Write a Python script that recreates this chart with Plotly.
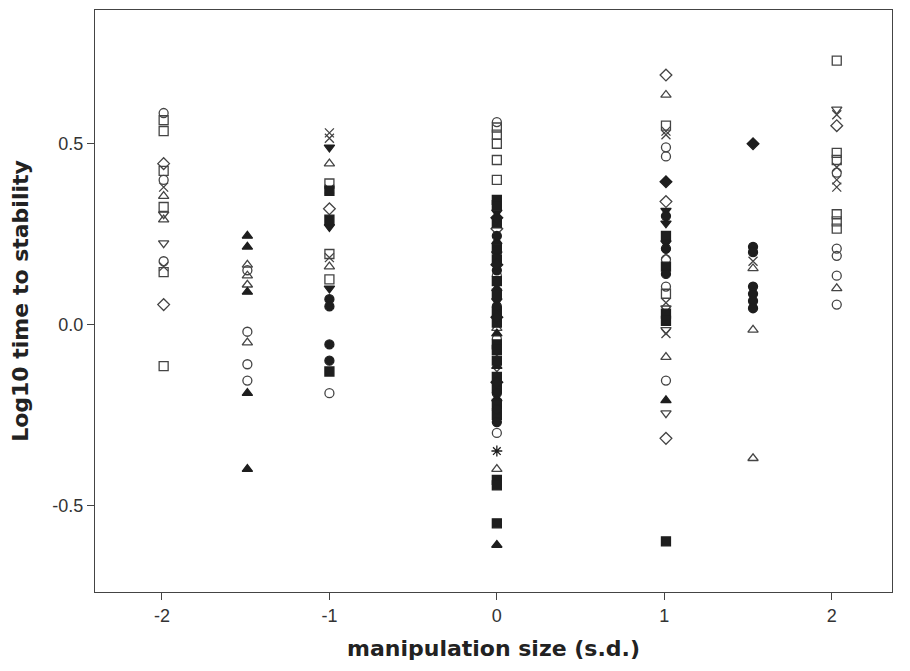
import plotly.graph_objects as go

# Data: (manipulation size, log10 time to stability) grouped by marker type
open_circle = [(-1.99,0.585),(-1.99,0.40),(-1.99,0.175),(-1.49,0.15),(-1.49,-0.02),(-1.49,-0.11),(-1.49,-0.155),
               (-1.0,-0.19),(0,0.56),(0,0.135),(0,-0.04),(0,-0.30),(1.01,0.49),(1.01,0.465),(1.01,0.18),(1.01,0.105),
               (1.01,-0.155),(2.03,0.42),(2.03,0.21),(2.03,0.19),(2.03,0.135),(2.03,0.055)]
open_square = [(-1.99,0.565),(-1.99,0.535),(-1.99,0.425),(-1.99,0.325),(-1.99,0.145),(-1.99,-0.115),(-1.0,0.39),
               (-1.0,0.195),(-1.0,0.125),(0,0.545),(0,0.525),(0,0.50),(0,0.455),(0,0.40),(1.01,0.55),(1.01,0.085),
               (2.03,0.73),(2.03,0.475),(2.03,0.455),(2.03,0.305),(2.03,0.285),(2.03,0.265)]
open_diamond = [(-1.99,0.445),(-1.99,0.055),(-1.0,0.32),(0,0.265),(1.01,0.69),(1.01,0.34),(1.01,-0.315),(2.03,0.55)]
cross = [(-1.99,0.38),(-1.99,0.16),(-1.0,0.53),(-1.0,0.515),(-1.0,0.375),(-1.0,0.185),(0,-0.085),(0,-0.13),
         (1.01,0.535),(1.01,0.525),(1.01,0.195),(1.01,0.06),(1.01,-0.025),(1.53,0.175),(2.03,0.58),(2.03,0.435),
         (2.03,0.40),(2.03,0.38)]
open_triup = [(-1.99,0.355),(-1.99,0.29),(-1.49,0.165),(-1.49,0.135),(-1.49,0.11),(-1.49,-0.05),(-1.0,0.445),
              (-1.0,0.16),(0,-0.01),(0,-0.40),(1.01,0.635),(1.01,-0.09),(1.53,0.155),(1.53,-0.015),(1.53,-0.37),
              (2.03,0.10)]
open_tridown = [(-1.99,0.305),(-1.99,0.225),(1.01,0.045),(1.01,-0.015),(1.01,-0.245),(2.03,0.595)]
filled_triup = [(-1.49,0.245),(-1.49,0.215),(-1.49,0.09),(-1.49,-0.19),(-1.49,-0.40),(0,0.23),(0,0.10),
                (0,-0.025),(0,-0.115),(0,-0.205),(0,-0.61),(1.01,-0.21)]
filled_tridown = [(-1.0,0.49),(-1.0,0.27),(-1.0,0.10),(0,0.31),(0,0.195),(0,0.065),(1.01,0.315),(1.01,0.28),
                  (1.01,0.225)]
filled_square = [(-1.0,0.37),(-1.0,0.29),(-1.0,-0.13),(0,0.345),(0,0.33),(0,0.28),(0,0.21),(0,0.18),(0,0.12),
                 (0,0.085),(0,0.035),(0,0.005),(0,-0.055),(0,-0.07),(0,-0.10),(0,-0.145),(0,-0.175),(0,-0.22),
                 (0,-0.25),(0,-0.43),(0,-0.445),(0,-0.55),(1.01,0.245),(1.01,0.16),(1.01,0.03),(1.01,0.01),
                 (1.01,-0.60)]
filled_circle = [(-1.0,0.07),(-1.0,0.05),(-1.0,-0.055),(-1.0,-0.10),(0,0.245),(0,0.15),(0,0.05),(0,-0.19),
                 (0,-0.235),(0,-0.27),(1.01,0.30),(1.01,0.21),(1.01,0.14),(1.53,0.215),(1.53,0.20),(1.53,0.105),
                 (1.53,0.085),(1.53,0.065),(1.53,0.045)]
filled_diamond = [(0,0.295),(0,0.165),(0,0.02),(0,-0.16),(1.01,0.395),(1.53,0.50)]
star = [(0,-0.35)]

x_ticks = [-2, -1, 0, 1, 2]
x_ticktext = ["-2", "-1", "0", "1", "2"]
y_ticks = [-0.5, 0.0, 0.5]
y_ticktext = ["-0.5", "0.0", "0.5"]

OPEN = "#444444"
FILL = "#1e1e1e"

groups = [
    (open_circle, "circle-open", OPEN),
    (open_square, "square-open", OPEN),
    (open_diamond, "diamond-open", OPEN),
    (cross, "x-thin-open", OPEN),
    (open_triup, "triangle-up-open", OPEN),
    (open_tridown, "triangle-down-open", OPEN),
    (filled_triup, "triangle-up", FILL),
    (filled_tridown, "triangle-down", FILL),
    (filled_square, "square", FILL),
    (filled_circle, "circle", FILL),
    (filled_diamond, "diamond", FILL),
    (star, "asterisk-open", FILL),
]

fig = go.Figure()
for pts, sym, col in groups:
    fig.add_trace(go.Scatter(
        x=[p[0] for p in pts], y=[p[1] for p in pts], mode="markers",
        marker=dict(symbol=sym, size=9, color=col, line=dict(color=col, width=1.3)),
        showlegend=False, hoverinfo="x+y"))

axis_common = dict(showgrid=False, zeroline=False, showline=True, mirror=True,
                   linecolor="#444444", linewidth=1, ticks="outside", ticklen=7,
                   tickcolor="#444444", tickfont=dict(family="Liberation Sans, Arial", size=18, color="#333333"))

title_font = dict(family="DejaVu Sans, Verdana", size=22, color="#222222", weight="bold")

fig.update_layout(
    width=910, height=671,
    margin=dict(l=95, r=18, t=10, b=79),
    plot_bgcolor="white", paper_bgcolor="white",
    xaxis=dict(range=[-2.40, 2.36], tickvals=x_ticks, ticktext=x_ticktext,
               title=dict(text="manipulation size (s.d.)", standoff=16, font=title_font),
               **axis_common),
    yaxis=dict(range=[-0.74, 0.87], tickvals=y_ticks, ticktext=y_ticktext,
               title=dict(text="Log10 time to stability", standoff=17, font=title_font),
               **axis_common),
)

fig.write_html("out.html")
